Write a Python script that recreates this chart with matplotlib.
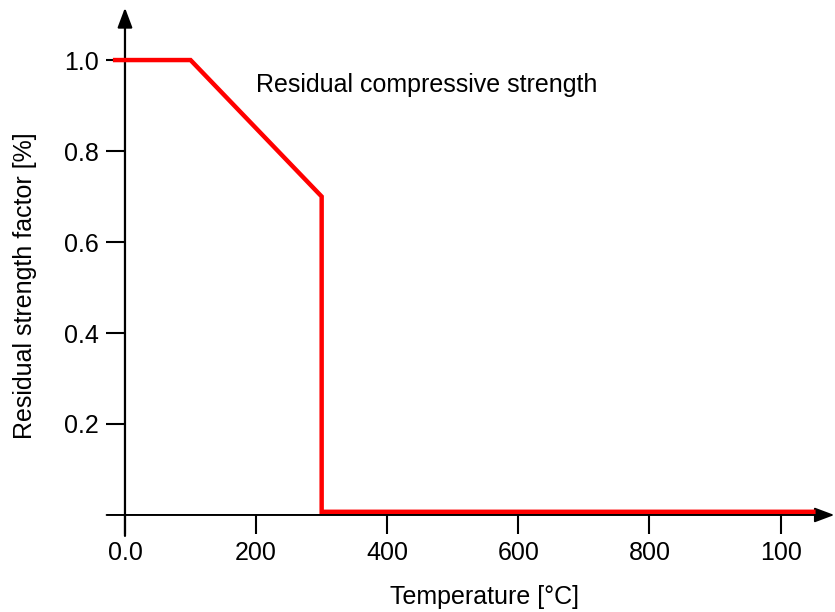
import matplotlib
matplotlib.use("Agg")
import matplotlib.pyplot as plt

plt.rcParams['font.family'] = ['Liberation Sans', 'DejaVu Sans']

# residual compressive strength curve
temperature = [-15, 100, 300, 300, 1050]
strength = [1.0, 1.0, 0.7, 0.007, 0.007]

xticks = [0, 200, 400, 600, 800, 1000]
xtick_labels = ["0.0", "200", "400", "600", "800", "100"]
yticks = [0.2, 0.4, 0.6, 0.8, 1.0]
ytick_labels = ["0.2", "0.4", "0.6", "0.8", "1.0"]

fig = plt.figure(figsize=(8.35, 6.12), dpi=100)
W, H = 835, 612
# axes from px 100..835 horizontally, 5..540 vertically
ax = fig.add_axes([100 / W, 1 - 540 / H, 735 / W, 535 / H])
ax.set_xlim(-38.1, 1083)
ax.set_ylim(-0.055, 1.121)

for s in ax.spines.values():
    s.set_visible(False)
ax.spines['left'].set_position(('data', 0))
ax.spines['bottom'].set_position(('data', 0))

ax.plot(temperature, strength, color='#ff0000', lw=3.2, solid_joinstyle='miter', zorder=3)

# axis lines with arrow heads
ax.annotate('', xy=(1082, 0), xytext=(-28, 0),
            arrowprops=dict(arrowstyle='-|>,head_length=1.2,head_width=0.45', color='black',
                            lw=1.4, shrinkA=0, shrinkB=0), zorder=2)
ax.annotate('', xy=(0, 1.115), xytext=(0, -0.046),
            arrowprops=dict(arrowstyle='-|>,head_length=1.2,head_width=0.45', color='black',
                            lw=1.6, shrinkA=0, shrinkB=0), zorder=2)

ax.set_xticks(xticks)
ax.set_xticklabels(xtick_labels)
ax.set_yticks(yticks)
ax.set_yticklabels(ytick_labels)
ax.tick_params(axis='both', direction='out', length=14, width=1.5, labelsize=18,
               pad=5, colors='black')

fig.text(485 / W, 1 - 597 / H, 'Temperature [°C]', ha='center', va='center', fontsize=18)
fig.text(25 / W, 1 - 286 / H, 'Residual strength factor [%]', ha='center', va='center',
         rotation=90, fontsize=18)
fig.text(256 / W, 1 - 85 / H, 'Residual compressive strength', ha='left', va='center',
         fontsize=18)

fig.savefig('out.png', dpi=100)
